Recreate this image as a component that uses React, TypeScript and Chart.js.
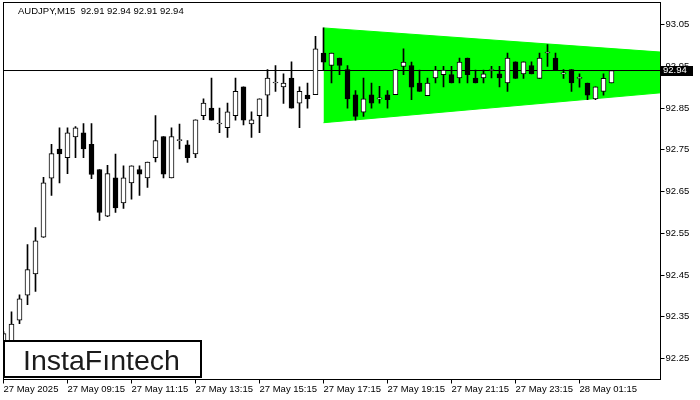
import React, { useEffect, useRef } from "react";
import { Chart, registerables } from "chart.js";

Chart.register(...registerables);

const chartTitle = "AUDJPY,M15  92.91 92.94 92.91 92.94";
const brandName = "InstaFıntech";

// M15 candles, index 0 = 27 May 07:15
const opens = [
  92.27, 92.29, 92.342, 92.402, 92.453, 92.541, 92.682, 92.752, 92.731, 92.781,
  92.791, 92.763, 92.703, 92.591, 92.683, 92.623, 92.671, 92.703, 92.683, 92.731,
  92.782, 92.683, 92.772, 92.762, 92.74, 92.832, 92.85, 92.812, 92.803, 92.832,
  92.901, 92.812, 92.832, 92.881, 92.91, 92.901, 92.922, 92.862, 92.881, 92.882,
  92.982, 92.952, 92.97, 92.942, 92.882, 92.84, 92.882, 92.872, 92.882, 92.882,
  92.95, 92.952, 92.91, 92.88, 92.922, 92.93, 92.93, 92.922, 92.97, 92.922,
  92.922, 92.94, 92.932, 92.91, 92.961, 92.932, 92.952, 92.921, 92.982, 92.97,
  92.932, 92.942, 92.921, 92.91, 92.872, 92.89, 92.91,
];
const highs = [
  92.315, 92.362, 92.403, 92.523, 92.564, 92.684, 92.763, 92.803, 92.803, 92.806,
  92.813, 92.813, 92.703, 92.713, 92.74, 92.712, 92.712, 92.712, 92.721, 92.832,
  92.782, 92.803, 92.812, 92.772, 92.822, 92.872, 92.922, 92.85, 92.862, 92.922,
  92.901, 92.841, 92.872, 92.942, 92.952, 92.932, 92.961, 92.901, 92.91, 93.022,
  93.042, 92.982, 92.97, 92.952, 92.892, 92.922, 92.91, 92.902, 92.892, 92.942,
  92.992, 92.96, 92.941, 92.922, 92.95, 92.95, 92.95, 92.97, 92.97, 92.941,
  92.941, 92.95, 92.95, 92.982, 92.961, 92.961, 92.961, 92.982, 93.002, 92.982,
  92.942, 92.942, 92.932, 92.91, 92.901, 92.932, 92.94,
];
const lows = [
  92.26, 92.27, 92.334, 92.379, 92.411, 92.54, 92.641, 92.671, 92.693, 92.731,
  92.731, 92.681, 92.581, 92.59, 92.6, 92.61, 92.632, 92.641, 92.66, 92.721,
  92.683, 92.683, 92.752, 92.72, 92.731, 92.822, 92.821, 92.791, 92.78, 92.821,
  92.81, 92.78, 92.791, 92.83, 92.89, 92.861, 92.85, 92.803, 92.85, 92.882,
  92.942, 92.91, 92.93, 92.85, 92.821, 92.83, 92.85, 92.862, 92.85, 92.882,
  92.93, 92.87, 92.89, 92.88, 92.91, 92.901, 92.91, 92.91, 92.91, 92.91,
  92.91, 92.922, 92.901, 92.89, 92.921, 92.921, 92.932, 92.921, 92.95, 92.942,
  92.921, 92.89, 92.9, 92.87, 92.87, 92.881, 92.91,
];
const closes = [
  92.31, 92.333, 92.393, 92.463, 92.532, 92.671, 92.741, 92.74, 92.791, 92.803,
  92.752, 92.691, 92.6, 92.693, 92.611, 92.683, 92.712, 92.692, 92.721, 92.772,
  92.692, 92.782, 92.772, 92.731, 92.822, 92.862, 92.821, 92.812, 92.841, 92.89,
  92.821, 92.822, 92.872, 92.922, 92.91, 92.91, 92.85, 92.89, 92.872, 92.992,
  92.96, 92.982, 92.952, 92.872, 92.83, 92.872, 92.862, 92.872, 92.87, 92.942,
  92.96, 92.9, 92.89, 92.91, 92.941, 92.941, 92.91, 92.96, 92.93, 92.91,
  92.932, 92.94, 92.922, 92.97, 92.921, 92.961, 92.932, 92.97, 92.982, 92.942,
  92.932, 92.91, 92.921, 92.881, 92.901, 92.921, 92.94,
];

const xTickIndex = [0, 8, 16, 24, 32, 40, 48, 56, 64, 72];
const xTickLabels = [
  "27 May 2025", "27 May 09:15", "27 May 11:15", "27 May 13:15", "27 May 15:15",
  "27 May 17:15", "27 May 19:15", "27 May 21:15", "27 May 23:15", "28 May 01:15",
];
const yTickValues = [92.25, 92.35, 92.45, 92.55, 92.65, 92.75, 92.85, 92.95, 93.05];
const lastPrice = 92.94;

// Symmetrical triangle pattern boundaries (bar index, price)
const patternX = [40, 83];
const patternTop = [93.042, 92.983];
const patternBottom = [92.815, 92.888];

const X_MIN = 0;
const X_MAX = 82.125;
const Y_MIN = 92.2;
const Y_MAX = 93.1029;
const FONT = "'Liberation Sans', Arial, sans-serif";

const overlayPlugin = {
  id: "overlay",
  afterDraw(chart: any) {
    const ctx = chart.ctx as CanvasRenderingContext2D;
    const a = chart.chartArea;
    ctx.save();
    // frame
    ctx.strokeStyle = "#000";
    ctx.lineWidth = 1;
    ctx.strokeRect(
      Math.floor(a.left) + 0.5,
      Math.floor(a.top) + 0.5,
      Math.round(a.right - a.left),
      Math.round(a.bottom - a.top)
    );
    // last price box
    const py = chart.scales.y.getPixelForValue(lastPrice);
    ctx.fillStyle = "#000";
    ctx.fillRect(Math.floor(a.right) + 1, Math.round(py) - 5, 32, 10);
    ctx.fillStyle = "#fff";
    ctx.font = `9.5px ${FONT}`;
    ctx.textBaseline = "middle";
    ctx.textAlign = "left";
    ctx.fillText(lastPrice.toFixed(2), Math.floor(a.right) + 3, py);
    // title
    ctx.fillStyle = "#000";
    ctx.textBaseline = "alphabetic";
    ctx.fillText(chartTitle, 18, 14);
    // brand box
    ctx.fillStyle = "#fff";
    ctx.fillRect(3, 340, 199, 38);
    ctx.strokeStyle = "#000";
    ctx.lineWidth = 2;
    ctx.strokeRect(4, 341, 197, 36);
    let size = 28;
    ctx.font = `${size}px ${FONT}`;
    const w = ctx.measureText(brandName).width;
    size = (size * 157) / w;
    ctx.font = `${size}px ${FONT}`;
    ctx.fillStyle = "#1b1b1b";
    ctx.fillText(brandName, 23, 370);
    ctx.restore();
  },
};

export default function App() {
  const ref = useRef<HTMLCanvasElement>(null);

  useEffect(() => {
    const idx = opens.map((_, i) => i);
    const wickData = idx.map((i) => ({ x: i, y: [lows[i], highs[i]] }));
    const bodyData = idx.map((i) => ({ x: i, y: [opens[i], closes[i]] }));
    const bodyFill = idx.map((i) => (closes[i] >= opens[i] ? "#ffffff" : "#000000"));

    const chart = new Chart(ref.current as HTMLCanvasElement, {
      type: "bar",
      data: {
        datasets: [
          {
            type: "bar",
            data: bodyData as any,
            backgroundColor: bodyFill,
            borderColor: "#000",
            borderWidth: 1,
            borderSkipped: false,
            grouped: false,
            barThickness: 5,
            maxBarThickness: 5,
            minBarLength: 1,
            order: 1,
          } as any,
          {
            type: "bar",
            data: wickData as any,
            backgroundColor: "#000",
            borderWidth: 0,
            grouped: false,
            barThickness: 1,
            maxBarThickness: 1,
            order: 2,
          } as any,
          {
            type: "line",
            data: [
              { x: X_MIN, y: lastPrice },
              { x: X_MAX, y: lastPrice },
            ],
            borderColor: "#000",
            borderWidth: 1,
            pointRadius: 0,
            fill: false,
            order: 3,
          } as any,
          {
            type: "line",
            data: patternX.map((x, k) => ({ x, y: patternTop[k] })),
            borderColor: "#00ff00",
            backgroundColor: "#00ff00",
            borderWidth: 1,
            pointRadius: 0,
            fill: "+1",
            order: 4,
          } as any,
          {
            type: "line",
            data: patternX.map((x, k) => ({ x, y: patternBottom[k] })),
            borderColor: "#00ff00",
            backgroundColor: "#00ff00",
            borderWidth: 1,
            pointRadius: 0,
            fill: false,
            order: 5,
          } as any,
        ],
      },
      options: {
        animation: false,
        responsive: false,
        devicePixelRatio: 1,
        layout: { padding: { left: 3.5, top: 2.5, right: 0, bottom: 0 } },
        plugins: { legend: { display: false }, tooltip: { enabled: false } },
        scales: {
          x: {
            type: "linear",
            min: X_MIN,
            max: X_MAX,
            offset: false,
            grid: { drawOnChartArea: false, drawTicks: true, tickLength: 4, color: "#000", offset: false },
            border: { display: false },
            afterBuildTicks: (scale: any) => {
              scale.ticks = xTickIndex.map((v) => ({ value: v }));
            },
            afterFit: (scale: any) => {
              scale.height = 20.5;
              scale.paddingLeft = 0;
              scale.paddingRight = 0;
            },
            ticks: {
              autoSkip: false,
              maxRotation: 0,
              minRotation: 0,
              align: "start",
              padding: 0,
              color: "#000",
              font: { family: FONT, size: 9.5 },
              callback: (_v: any, i: number) => xTickLabels[i] ?? "",
            },
          },
          y: {
            type: "linear",
            position: "right",
            min: Y_MIN,
            max: Y_MAX,
            grid: { drawOnChartArea: false, drawTicks: true, tickLength: 4, color: "#000" },
            border: { display: false },
            afterBuildTicks: (scale: any) => {
              scale.ticks = yTickValues.map((v) => ({ value: v }));
            },
            afterFit: (scale: any) => {
              scale.width = 39.5;
              scale.paddingTop = 0;
              scale.paddingBottom = 0;
            },
            ticks: {
              padding: 1,
              color: "#000",
              font: { family: FONT, size: 9.5 },
              callback: (v: any) => Number(v).toFixed(2),
            },
          },
        },
      } as any,
      plugins: [overlayPlugin],
    });
    return () => chart.destroy();
  }, []);

  return (
    <div style={{ position: "fixed", left: 0, top: 0, width: 700, height: 400, background: "#fff" }}>
      <canvas ref={ref} width={700} height={400} style={{ display: "block", width: 700, height: 400 }} />
    </div>
  );
}
